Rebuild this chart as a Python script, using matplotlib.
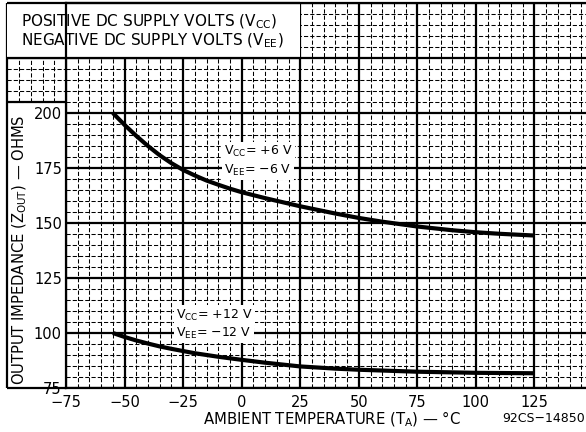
import matplotlib
matplotlib.use("Agg")
import matplotlib.pyplot as plt
from matplotlib.patches import Rectangle
from matplotlib.ticker import MultipleLocator

# ---- data ----
temp_6v = [-55, -50, -45, -40, -35, -30, -25, -20, -15, -10, -5, 0, 10, 25, 40, 50, 60, 75, 90, 100, 110, 125]
zout_6v = [200, 194.6, 189.6, 185.0, 180.8, 177.2, 174.1, 171.6, 169.3, 167.4, 165.6, 164.0,
           161.3, 157.6, 154.3, 152.3, 150.6, 148.4, 146.7, 145.8, 145.1, 144.3]
temp_12v = [-55, -50, -45, -40, -35, -30, -25, -20, -10, 0, 10, 25, 40, 50, 75, 100, 125]
zout_12v = [100, 98.2, 96.6, 95.2, 93.9, 92.8, 91.8, 90.8, 89.2, 87.8, 86.5, 84.8, 83.8,
            83.3, 82.4, 81.9, 81.7]
xticks = [-75, -50, -25, 0, 25, 50, 75, 100, 125]
yticks = [75, 100, 125, 150, 175, 200]

W, H = 586, 432
fig = plt.figure(figsize=(W / 100, H / 100), dpi=100)
ax = fig.add_axes([66 / W, (H - 388) / H, 520 / W, 385 / H])
ax.set_xlim(-75, 147)
ax.set_ylim(75, 250)

minor_ls = (0, (4, 2))

# grid
ax.xaxis.set_major_locator(MultipleLocator(25))
ax.yaxis.set_major_locator(MultipleLocator(25))
ax.xaxis.set_minor_locator(MultipleLocator(5))
ax.yaxis.set_minor_locator(MultipleLocator(5))
ax.grid(which="major", color="black", lw=1.6, ls="-")
ax.grid(which="minor", color="black", lw=0.75, ls=minor_ls)
ax.set_axisbelow(True)

ax.set_xticks(xticks)
ax.set_xticklabels([str(v).replace("-", "\u2212") for v in xticks])
ax.set_yticks(yticks + [225, 250])
ax.set_yticklabels([str(v) for v in yticks] + ["", ""])
ax.tick_params(which="both", length=0)
ax.tick_params(axis="x", pad=5, labelsize=10.5)
ax.tick_params(axis="y", pad=3, labelsize=10.5)

for s in ["left", "bottom", "top"]:
    ax.spines[s].set_linewidth(1.6)
ax.spines["right"].set_visible(False)

# curves
ax.plot(temp_6v, zout_6v, color="black", lw=3, solid_capstyle="butt",
        solid_joinstyle="round", zorder=3)
ax.plot(temp_12v, zout_12v, color="black", lw=3, solid_capstyle="butt",
        solid_joinstyle="round", zorder=3)

# left extension of grid (rows 205-225) and outer frame
ax.hlines([205, 210, 215, 220], -100, -75, colors="black", lw=0.75,
          linestyles=minor_ls, clip_on=False)
ax.hlines([225], -100, -75, colors="black", lw=1.6, clip_on=False)
ax.vlines([-95, -90, -85, -80], 205, 225, colors="black", lw=0.75,
          linestyles=minor_ls, clip_on=False)
ax.vlines([-100], 75, 250, colors="black", lw=1.6, clip_on=False)
ax.hlines([75, 205], -100, -75, colors="black", lw=1.6, clip_on=False)

# header box (covers grid)
ax.add_patch(Rectangle((-100, 225), 125, 25, facecolor="white", edgecolor="none",
                       clip_on=False, zorder=2))
ax.hlines([225], -100, 25, colors="black", lw=1.6, clip_on=False, zorder=2.1)
ax.hlines([250], -100, 25, colors="black", lw=1.6, clip_on=False, zorder=2.1)
ax.text(-94, 241.4, r"POSITIVE DC SUPPLY VOLTS (V$_{\mathrm{CC}}$)", fontsize=11,
        ha="left", va="center", zorder=4)
ax.text(-94, 233.0, r"NEGATIVE DC SUPPLY VOLTS (V$_{\mathrm{EE}}$)", fontsize=11,
        ha="left", va="center", zorder=4)

bb = dict(facecolor="white", edgecolor="none", pad=1.5)
ax.text(-7.5, 182.3, r"V$_{\mathrm{CC}}$= +6 V", fontsize=9, ha="left", va="center",
        bbox=bb, zorder=4)
ax.text(-7.5, 174.1, r"V$_{\mathrm{EE}}$= $-$6 V", fontsize=9, ha="left", va="center",
        bbox=bb, zorder=4)
ax.text(-28, 108.2, r"V$_{\mathrm{CC}}$= +12 V", fontsize=9, ha="left", va="center",
        bbox=bb, zorder=4)
ax.text(-28, 100.0, r"V$_{\mathrm{EE}}$= $-$12 V", fontsize=9, ha="left", va="center",
        bbox=bb, zorder=4)

ax.set_xlabel(r"AMBIENT TEMPERATURE (T$_{\mathrm{A}}$) — °C", fontsize=10.7, va="center")
ax.xaxis.set_label_coords((332 - 66) / 520, (388 - 419) / 385)
ax.set_ylabel(r"OUTPUT IMPEDANCE (Z$_{\mathrm{OUT}}$) — OHMS", fontsize=10.6,
              va="center", ha="center")
ax.yaxis.set_label_coords((20 - 66) / 520, (388 - 250) / 385)
ax.text((585 - 66) / 520, (388 - 419) / 385, "92CS\u221214850", fontsize=9,
        ha="right", va="center", transform=ax.transAxes)

fig.savefig("out.png", dpi=100)
